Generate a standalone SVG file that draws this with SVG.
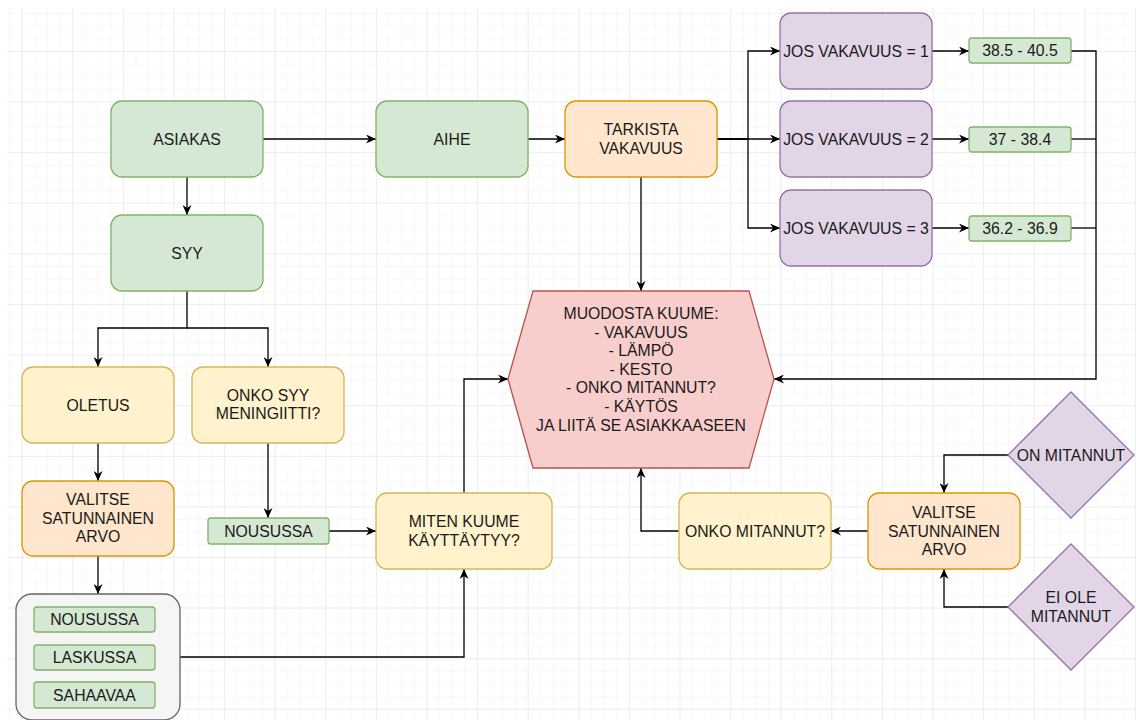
<svg xmlns="http://www.w3.org/2000/svg" width="1136" height="720" viewBox="0 0 1136 720">
  <defs>
    <pattern id="minorGrid" width="12.65" height="12.65" patternUnits="userSpaceOnUse" x="21.7" y="0.4">
      <path d="M0,0 H12.65 M0,0 V12.65" fill="none" stroke="#f1f1f1" stroke-width="1"/>
    </pattern>
    <pattern id="majorGrid" width="50.6" height="50.6" patternUnits="userSpaceOnUse" x="21.7" y="0.4">
      <path d="M0,0 H50.6 M0,0 V50.6" fill="none" stroke="#e3e3e3" stroke-width="1"/>
    </pattern>
    <marker id="arrow" markerUnits="userSpaceOnUse" markerWidth="11" markerHeight="9" refX="10" refY="4.5" orient="auto">
      <path d="M0,0 L10,4.5 L0,9 L3,4.5 Z" fill="#000"/>
    </marker>
  </defs>
  <style>
    text { font-family: "Liberation Sans", Arial, sans-serif; font-size: 15.8px; fill: #1a1a1a; text-anchor: middle; }
    .green { fill: #d5e8d4; stroke: #82b366; stroke-width: 1.3; }
    .yellow { fill: #fff2cc; stroke: #d6b656; stroke-width: 1.3; }
    .orange { fill: #ffe6cc; stroke: #d79b00; stroke-width: 1.3; }
    .purple { fill: #e1d5e7; stroke: #9673a6; stroke-width: 1.3; }
    .red { fill: #f8cecc; stroke: #b85450; stroke-width: 1.3; }
    .gray { fill: #f5f5f5; stroke: #666666; stroke-width: 1.3; }
    .edge { fill: none; stroke: #000; stroke-width: 1.3; }
    .arr { marker-end: url(#arrow); }
  </style>

  <!-- canvas and grid -->
  <rect x="0" y="0" width="1136" height="720" fill="#ffffff"/>
  <rect x="7" y="8" width="1129" height="712" fill="url(#minorGrid)"/>
  <rect x="7" y="8" width="1129" height="712" fill="url(#majorGrid)"/>

  <!-- connectors -->
  <g id="connectors">
    <path class="edge arr" d="M263,139 H376"/>
    <path class="edge arr" d="M528,139 H565"/>
    <path class="edge arr" d="M717,139 H780"/>
    <path class="edge arr" d="M717,139 H748 V51 H780"/>
    <path class="edge arr" d="M717,139 H748 V228 H780"/>
    <path class="edge arr" d="M932,51 H969"/>
    <path class="edge arr" d="M932,139 H969"/>
    <path class="edge arr" d="M932,228 H969"/>
    <path class="edge arr" d="M1071,51 H1096 V379 H774"/>
    <path class="edge" d="M1071,139 H1096"/>
    <path class="edge" d="M1071,228 H1096"/>
    <path class="edge arr" d="M641,177 V291"/>
    <path class="edge arr" d="M187,177 V215"/>
    <path class="edge arr" d="M187,291 V328 H98 V367"/>
    <path class="edge arr" d="M187,328 H268 V367"/>
    <path class="edge arr" d="M98,443 V481"/>
    <path class="edge arr" d="M98,556 V594"/>
    <path class="edge arr" d="M268,442 V518"/>
    <path class="edge arr" d="M329,531 H376"/>
    <path class="edge arr" d="M180,657 H464 V569"/>
    <path class="edge arr" d="M464,493 V379 H508"/>
    <path class="edge arr" d="M1008,455 H944 V493"/>
    <path class="edge arr" d="M1008,607 H944 V569"/>
    <path class="edge arr" d="M868,531 H831"/>
    <path class="edge arr" d="M679,531 H641 V468"/>
  </g>

  <!-- nodes -->
  <g id="asiakas">
    <rect class="green" x="111" y="101" width="152" height="76" rx="11"/>
    <text x="187" y="144.5">ASIAKAS</text>
  </g>
  <g id="syy">
    <rect class="green" x="111" y="215" width="152" height="76" rx="11"/>
    <text x="187" y="258.5">SYY</text>
  </g>
  <g id="aihe">
    <rect class="green" x="376" y="101" width="152" height="76" rx="11"/>
    <text x="452" y="144.5">AIHE</text>
  </g>
  <g id="tarkista">
    <rect class="orange" x="565" y="101" width="152" height="76" rx="11"/>
    <text x="641" y="135">TARKISTA</text>
    <text x="641" y="154">VAKAVUUS</text>
  </g>
  <g id="jos1">
    <rect class="purple" x="780" y="13" width="152" height="76" rx="11"/>
    <text x="856" y="56.5">JOS VAKAVUUS = 1</text>
  </g>
  <g id="jos2">
    <rect class="purple" x="780" y="101" width="152" height="76" rx="11"/>
    <text x="856" y="144.5">JOS VAKAVUUS = 2</text>
  </g>
  <g id="jos3">
    <rect class="purple" x="780" y="190" width="152" height="76" rx="11"/>
    <text x="856" y="233.5">JOS VAKAVUUS = 3</text>
  </g>
  <g id="range1">
    <rect class="green" x="969" y="38" width="102" height="25" rx="3"/>
    <text x="1020" y="56">38.5 - 40.5</text>
  </g>
  <g id="range2">
    <rect class="green" x="969" y="127" width="102" height="25" rx="3"/>
    <text x="1020" y="145">37 - 38.4</text>
  </g>
  <g id="range3">
    <rect class="green" x="969" y="216" width="102" height="25" rx="3"/>
    <text x="1020" y="234">36.2 - 36.9</text>
  </g>
  <g id="muodosta">
    <polygon class="red" points="533,291 749,291 774,379 749,468 533,468 508,379"/>
    <text x="641" y="319">MUODOSTA KUUME:</text>
    <text x="641" y="337.6">- VAKAVUUS</text>
    <text x="641" y="356.2">- LÄMPÖ</text>
    <text x="641" y="374.8">- KESTO</text>
    <text x="641" y="393.4">- ONKO MITANNUT?</text>
    <text x="641" y="412">- KÄYTÖS</text>
    <text x="641" y="430.6">JA LIITÄ SE ASIAKKAASEEN</text>
  </g>
  <g id="oletus">
    <rect class="yellow" x="22" y="367" width="152" height="76" rx="11"/>
    <text x="98" y="410.5">OLETUS</text>
  </g>
  <g id="onko-syy">
    <rect class="yellow" x="192" y="367" width="152" height="76" rx="11"/>
    <text x="268" y="400.5">ONKO SYY</text>
    <text x="268" y="419">MENINGIITTI?</text>
  </g>
  <g id="valitse-left">
    <rect class="orange" x="22" y="481" width="152" height="75" rx="11"/>
    <text x="98" y="505">VALITSE</text>
    <text x="98" y="523.5">SATUNNAINEN</text>
    <text x="98" y="542">ARVO</text>
  </g>
  <g id="nousussa">
    <rect class="green" x="208" y="518" width="121" height="26" rx="3"/>
    <text x="268.5" y="536.5">NOUSUSSA</text>
  </g>
  <g id="miten">
    <rect class="yellow" x="376" y="493" width="176" height="76" rx="11"/>
    <text x="464" y="527">MITEN KUUME</text>
    <text x="464" y="545.5">KÄYTTÄYTYY?</text>
  </g>
  <g id="kaytos-lista">
    <rect class="gray" x="16" y="594" width="164" height="126" rx="16"/>
    <rect class="green" x="34" y="607" width="121" height="25" rx="3"/>
    <text x="94.5" y="625">NOUSUSSA</text>
    <rect class="green" x="34" y="645" width="121" height="25" rx="3"/>
    <text x="94.5" y="663">LASKUSSA</text>
    <rect class="green" x="34" y="682" width="121" height="26" rx="3"/>
    <text x="94.5" y="700.5">SAHAAVAA</text>
  </g>
  <g id="onko-mitannut">
    <rect class="yellow" x="679" y="493" width="152" height="76" rx="11"/>
    <text x="755" y="536.5">ONKO MITANNUT?</text>
  </g>
  <g id="valitse-right">
    <rect class="orange" x="868" y="493" width="152" height="76" rx="11"/>
    <text x="944" y="518">VALITSE</text>
    <text x="944" y="536.5">SATUNNAINEN</text>
    <text x="944" y="555">ARVO</text>
  </g>
  <g id="on-mitannut">
    <polygon class="purple" points="1071,392 1134,455 1071,518 1008,455"/>
    <text x="1071" y="460.5">ON MITANNUT</text>
  </g>
  <g id="ei-ole-mitannut">
    <polygon class="purple" points="1071,544 1134,607 1071,670 1008,607"/>
    <text x="1071" y="603">EI OLE</text>
    <text x="1071" y="621.5">MITANNUT</text>
  </g>
</svg>
